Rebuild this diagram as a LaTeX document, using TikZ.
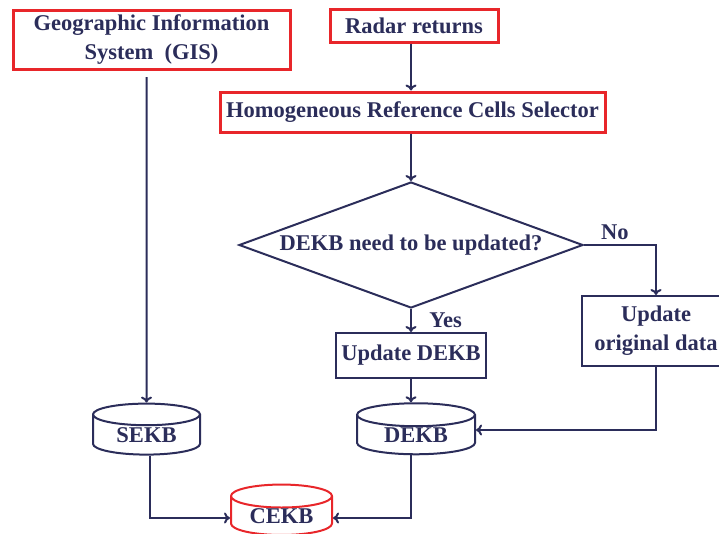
\documentclass[tikz,border=0pt]{standalone}
\usepackage{fontspec}
\setmainfont{Liberation Serif}
\usetikzlibrary{shapes.geometric,arrows.meta,positioning}
\definecolor{navy}{HTML}{2B2D5A}
\definecolor{boxred}{HTML}{E8262A}
\begin{document}
\begin{tikzpicture}[x=1pt, y=-1pt, font=\fontsize{22.5}{29}\selectfont\bfseries, text=navy,
    redbox/.style={draw=boxred, line width=3pt, inner sep=0pt, align=center},
    plainbox/.style={draw=navy, line width=2pt, inner sep=0pt, align=center},
    store/.style={cylinder, shape border rotate=90, aspect=0.36, draw=navy, line width=2pt, inner sep=0pt,
        text height=15pt, text depth=0pt},
    flow/.style={draw=navy, line width=2pt, -{To[length=6pt,width=11pt]}}]
    \useasboundingbox (0,0) rectangle (719,533);

    % Sources
    \node[redbox, minimum width=277, minimum height=59] (gis) at (151.5,40) {Geographic Information\\System\ \ (GIS)};
    \node[redbox, minimum width=168, minimum height=33] (radar) at (414,25.5) {Radar returns};
    \node[redbox, minimum width=385, minimum height=40] (hrcs) at (412.5,112) {Homogeneous Reference Cells Selector};

    % Decision and updates
    \node[diamond, aspect=2.73, draw=navy, line width=2pt, inner sep=0pt, minimum width=344, minimum height=126] (decision) at (411,245) {DEKB need to be updated?};
    \node[plainbox, minimum width=150, minimum height=45] (upd) at (411,355.5) {Update DEKB};
    \node[plainbox, minimum width=148, minimum height=70] (orig) at (656,331) {Update\\original data};

    % Knowledge bases
    \node[store, minimum width=107, minimum height=51] (sekb) at (146.5,435) {SEKB};
    \node[store, minimum width=118, minimum height=51] (dekb) at (416,435) {DEKB};
    \node[store, draw=boxred, minimum width=101, minimum height=44] (cekb) at (281.5,516) {CEKB};

    % Connectors
    \draw[flow] (radar.south -| decision) -- (hrcs.north -| decision);
    \draw[flow] (hrcs.south -| decision) -- (decision.north);
    \draw[flow] ([yshift=-6pt]gis.south -| sekb) -- (sekb.north);
    \draw[flow] (decision.east) -- (decision.east -| orig) node[pos=0.43, above=1pt] {No} -- (orig.north);
    \draw[flow] (decision.south) -- (upd.north) node[midway, right=14pt] {Yes};
    \draw[flow] (upd.south) -- (upd.south |- dekb.north);
    \draw[flow] (orig.south) |- ([yshift=5pt]dekb.east);
    \draw[flow] ([xshift=3pt]sekb.south) |- ([yshift=-2pt]cekb.west);
    \draw[flow] ([xshift=-5pt]dekb.south) |- ([yshift=-2pt]cekb.east);
\end{tikzpicture}
\end{document}
